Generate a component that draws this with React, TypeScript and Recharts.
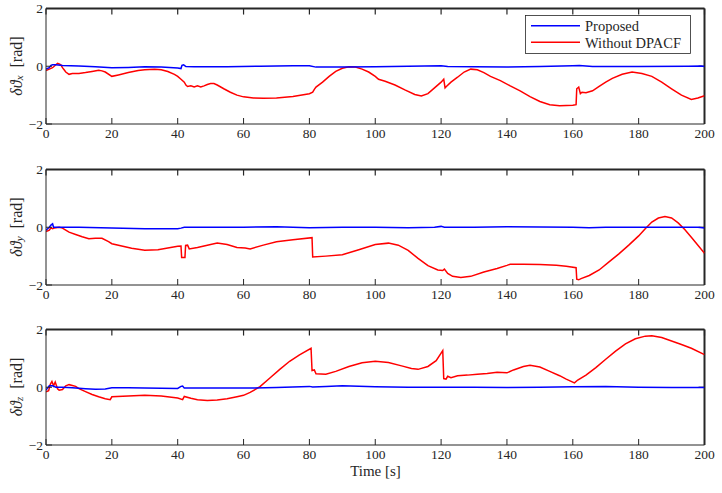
import React from 'react';
import { LineChart, Line, XAxis, YAxis, Legend, ReferenceLine } from 'recharts';

const timeTicks = [0, 20, 40, 60, 80, 100, 120, 140, 160, 180, 200];
const angleTicks = [-2, 0, 2];
const seriesNames = ['Proposed', 'Without DPACF'];
const axisSubscripts = ['x', 'y', 'z'];

const proposedX: [number, number][] = [
  [0, -0.1], [1, -0.05], [1.5, 0.03], [2, 0.05], [3, 0.05], [5, 0.03], [10, 0.01], [15, -0.02], [20, -0.05],
  [25, -0.04], [30, -0.02], [35, -0.03], [40, -0.06], [41, -0.08], [41.3, 0.03], [41.8, 0.05], [42.5, -0.01],
  [45, -0.02], [55, -0.02], [65, 0.0], [75, 0.02], [80, 0.02], [82, -0.03], [90, -0.03], [100, -0.02],
  [110, 0.0], [120, 0.02], [122, -0.01], [130, -0.02], [140, -0.03], [150, -0.01], [160, 0.02], [162, 0.03],
  [166, -0.01], [180, -0.01], [195, 0.0], [199, 0.01], [200, -0.01],
];

const withoutX: [number, number][] = [
  [0, -0.15], [1, -0.1], [2, -0.05], [3, 0.05], [3.5, 0.1], [4, 0.08], [4.5, 0.05], [5, -0.05], [5.5, -0.12],
  [6, -0.2], [7, -0.28], [8, -0.25], [10, -0.25], [12, -0.22], [14, -0.18], [16, -0.14], [17, -0.16], [18, -0.2],
  [20, -0.35], [22, -0.3], [25, -0.22], [28, -0.15], [30, -0.12], [33, -0.1], [35, -0.12], [37, -0.18],
  [39, -0.28], [40, -0.35], [41, -0.45], [42, -0.55], [42.5, -0.65], [43, -0.7], [44, -0.68], [45, -0.72],
  [46, -0.68], [47, -0.72], [48, -0.68], [49, -0.63], [50, -0.6], [51, -0.6], [52, -0.65], [54, -0.78],
  [56, -0.9], [58, -1.0], [60, -1.06], [63, -1.1], [66, -1.11], [70, -1.1], [75, -1.05], [80, -0.95],
  [81, -0.9], [81.5, -0.8], [82, -0.72], [84, -0.55], [86, -0.35], [88, -0.18], [90, -0.07], [92, -0.02],
  [94, -0.03], [96, -0.1], [98, -0.2], [100, -0.35], [101, -0.45], [103, -0.52], [106, -0.65], [109, -0.82],
  [112, -0.98], [114, -1.03], [116, -0.95], [118, -0.75], [120, -0.55], [120.8, -0.45], [121.2, -0.75],
  [121.6, -0.7], [123, -0.55], [125, -0.38], [127, -0.2], [129, -0.1], [131, -0.12], [133, -0.22], [135, -0.35],
  [138, -0.5], [141, -0.68], [144, -0.85], [147, -1.05], [150, -1.22], [153, -1.33], [156, -1.37], [160, -1.35],
  [161, -1.33], [161.2, -0.78], [161.8, -0.72], [162.3, -0.95], [162.8, -0.9], [164, -0.92], [166, -0.85],
  [168, -0.7], [170, -0.55], [172, -0.42], [175, -0.28], [178, -0.2], [181, -0.25], [184, -0.35], [187, -0.55],
  [190, -0.78], [193, -1.0], [196, -1.15], [198, -1.1], [200, -1.02],
];

const proposedY: [number, number][] = [
  [0, -0.1], [1, 0.0], [1.5, 0.08], [2, 0.12], [2.3, 0.0], [3, 0.0], [10, 0.0], [20, -0.03], [30, -0.05],
  [40, -0.05], [41, -0.03], [42, 0.0], [50, 0.0], [60, 0.0], [70, 0.02], [80, -0.02], [90, 0.0], [100, 0.0],
  [110, -0.02], [118, 0.0], [120, 0.03], [121, 0.0], [130, 0.0], [140, 0.02], [150, 0.01], [160, 0.0],
  [165, -0.02], [170, 0.0], [180, 0.0], [190, 0.0], [198, 0.0], [200, -0.03],
];

const withoutY: [number, number][] = [
  [0, -0.15], [1, -0.1], [1.5, -0.02], [2, -0.05], [2.5, -0.03], [3, -0.02], [4, 0.0], [5, -0.03], [6, -0.1],
  [7, -0.17], [9, -0.25], [11, -0.33], [13, -0.4], [15, -0.38], [17, -0.38], [19, -0.5], [20, -0.57],
  [23, -0.65], [26, -0.73], [30, -0.8], [34, -0.78], [37, -0.72], [40, -0.66], [41, -0.65], [41.2, -1.05],
  [42.2, -1.05], [42.4, -0.63], [43, -0.62], [43.5, -0.75], [46, -0.7], [49, -0.62], [52, -0.55], [55, -0.6],
  [58, -0.7], [60.5, -0.72], [62, -0.75], [66, -0.62], [70, -0.5], [75, -0.43], [80.8, -0.36], [81, -1.03],
  [85, -1.0], [90, -0.95], [95, -0.78], [100, -0.6], [104, -0.55], [107, -0.62], [110, -0.8], [113, -1.08],
  [116, -1.33], [119, -1.48], [120.5, -1.5], [121, -1.45], [122, -1.6], [123.5, -1.7], [126, -1.74],
  [129, -1.7], [133, -1.55], [137, -1.43], [140, -1.32], [141, -1.28], [145, -1.28], [150, -1.29],
  [155, -1.32], [158, -1.35], [161, -1.4], [161.2, -1.8], [161.8, -1.82], [162.5, -1.78], [165, -1.67],
  [168, -1.48], [171, -1.2], [174, -0.92], [177, -0.62], [180, -0.3], [182, -0.05], [184, 0.18], [186, 0.32],
  [188, 0.37], [190, 0.32], [192, 0.15], [194, -0.08], [196, -0.35], [198, -0.62], [200, -0.9],
];

const proposedZ: [number, number][] = [
  [0, -0.1], [1, 0.05], [2, 0.05], [3, 0.0], [5, 0.0], [8, -0.02], [12, -0.05], [15, -0.07], [18, -0.06],
  [20, -0.02], [25, -0.02], [30, -0.03], [40, -0.04], [41, 0.03], [41.5, 0.04], [42, -0.03], [50, -0.03],
  [60, -0.03], [70, -0.01], [80, 0.03], [81, 0.01], [85, 0.03], [90, 0.05], [100, 0.02], [110, 0.0],
  [120, 0.0], [130, 0.0], [140, -0.01], [150, 0.0], [160, 0.02], [170, 0.03], [180, 0.0], [190, -0.01],
  [200, -0.01],
];

const withoutZ: [number, number][] = [
  [0, -0.16], [0.8, -0.12], [1.3, 0.1], [1.8, 0.2], [2.3, 0.05], [2.8, 0.18], [3.5, -0.05], [4, -0.1],
  [5, -0.08], [6, 0.05], [7, 0.09], [8, 0.06], [9, 0.03], [10, -0.05], [12, -0.15], [14, -0.25], [16, -0.33],
  [18, -0.4], [19.5, -0.43], [20, -0.33], [25, -0.3], [30, -0.28], [35, -0.3], [40, -0.37], [41.5, -0.43],
  [42, -0.32], [44, -0.38], [46, -0.43], [49, -0.46], [52, -0.44], [55, -0.4], [58, -0.33], [60, -0.28],
  [62, -0.18], [65, 0.02], [68, 0.32], [71, 0.62], [74, 0.9], [77, 1.12], [80.5, 1.35], [80.8, 0.58],
  [81.5, 0.6], [82, 0.47], [85, 0.45], [88, 0.55], [92, 0.72], [96, 0.85], [100, 0.9], [104, 0.86],
  [108, 0.74], [111, 0.65], [113, 0.62], [116, 0.72], [118.5, 0.92], [120.5, 1.27], [120.8, 0.3],
  [121.5, 0.28], [122, 0.38], [123, 0.33], [125, 0.4], [128, 0.42], [131, 0.45], [134, 0.48], [137, 0.52],
  [140, 0.5], [142, 0.6], [145, 0.72], [147, 0.76], [150, 0.7], [153, 0.55], [156, 0.4], [158, 0.28],
  [160.5, 0.15], [161.5, 0.25], [164, 0.42], [167, 0.68], [170, 0.97], [173, 1.25], [176, 1.5], [179, 1.68],
  [182, 1.77], [184, 1.78], [187, 1.72], [190, 1.6], [193, 1.48], [196, 1.35], [200, 1.13],
];

const FONT = '"Liberation Serif", "DejaVu Serif", serif';
const INK = '#262626';
const BLUE = '#0000ff';
const RED = '#ff0000';

const X_MIN = 0;
const X_MAX = 200;
const Y_MIN = -2;
const Y_MAX = 2;
// inward tick length expressed in data units (~6px)
const TICK_DY = 0.21;
const TICK_DX = 1.8;

const toRows = (pts: [number, number][]) => pts.map(([t, v]) => ({ t, v }));

const YLabel = ({ sub }: { sub: string }) => (
  <text
    transform="rotate(-90, 16, 66)"
    x={16}
    y={66}
    textAnchor="middle"
    dominantBaseline="central"
    fontFamily={FONT}
    fontSize={16}
    fill={INK}
  >
    <tspan fontStyle="italic">δϑ</tspan>
    <tspan fontStyle="italic" fontSize={11} dy={3}>{sub}</tspan>
    <tspan dy={-3}>{'\u2002[rad]'}</tspan>
  </text>
);

const XLabel = () => (
  <text x={375.5} y={149.5} textAnchor="middle" dominantBaseline="central" fontFamily={FONT} fontSize={15} fill={INK}>
    Time [s]
  </text>
);

const LegendBox = () => (
  <svg width={167} height={40} style={{ display: 'block' }}>
    <rect x={0.5} y={0.5} width={165} height={38} fill="#ffffff" stroke={INK} strokeWidth={0.8} />
    <line x1={6} x2={55} y1={10.7} y2={10.7} stroke={BLUE} strokeWidth={1.5} />
    <text x={60} y={11} dominantBaseline="central" fontFamily={FONT} fontSize={14.5} fill={INK}>{seriesNames[0]}</text>
    <line x1={6} x2={55} y1={27.3} y2={27.3} stroke={RED} strokeWidth={1.5} />
    <text x={60} y={27.6} dominantBaseline="central" fontFamily={FONT} fontSize={14.5} fill={INK}>{seriesNames[1]}</text>
  </svg>
);

const tickStyle = { fontFamily: FONT, fontSize: 13.5, fill: INK };

type PanelProps = {
  top: number;
  proposed: [number, number][];
  without: [number, number][];
  sub: string;
  legend?: boolean;
  xLabel?: boolean;
};

const Panel = ({ top, proposed, without, sub, legend, xLabel }: PanelProps) => (
  <div style={{ position: 'absolute', left: 0, top, width: 722, height: 160 }}>
    <LineChart width={722} height={160} margin={{ top: 8.5, right: 17.5, left: 6, bottom: 6 }}>
      <XAxis
        dataKey="t"
        type="number"
        domain={[X_MIN, X_MAX]}
        ticks={timeTicks}
        allowDataOverflow
        height={30}
        stroke={INK}
        tickSize={-6}
        tickMargin={10}
        tick={tickStyle}
        interval={0}
        label={xLabel ? <XLabel /> : undefined}
      />
      <YAxis
        type="number"
        domain={[Y_MIN, Y_MAX]}
        ticks={angleTicks}
        allowDataOverflow
        width={40}
        stroke={INK}
        tickSize={-6}
        tickMargin={9}
        tick={tickStyle}
        interval={0}
        tickFormatter={(v: number) => (v < 0 ? `\u2212${Math.abs(v)}` : `${v}`)}
        label={<YLabel sub={sub} />}
      />
      <ReferenceLine y={Y_MAX} stroke={INK} strokeWidth={2} ifOverflow="extendDomain" />
      <ReferenceLine x={X_MAX} stroke={INK} strokeWidth={2} ifOverflow="extendDomain" />
      {timeTicks.map((t) => (
        <ReferenceLine
          key={`tt${t}`}
          segment={[{ x: t, y: Y_MAX }, { x: t, y: Y_MAX - TICK_DY }]}
          stroke={INK}
          strokeWidth={1.2}
          ifOverflow="extendDomain"
        />
      ))}
      <ReferenceLine
        segment={[{ x: X_MAX, y: 0 }, { x: X_MAX - TICK_DX, y: 0 }]}
        stroke={INK}
        strokeWidth={1.2}
        ifOverflow="extendDomain"
      />
      <Line
        data={toRows(without)}
        dataKey="v"
        name={seriesNames[1]}
        stroke={RED}
        strokeWidth={1.5}
        dot={false}
        isAnimationActive={false}
        type="linear"
      />
      <Line
        data={toRows(proposed)}
        dataKey="v"
        name={seriesNames[0]}
        stroke={BLUE}
        strokeWidth={1.5}
        dot={false}
        isAnimationActive={false}
        type="linear"
      />
      {legend ? (
        <Legend
          layout="horizontal"
          verticalAlign="middle"
          align="center"
          content={() => <LegendBox />}
          wrapperStyle={{ position: 'absolute', left: 525, top: 15, width: 167, height: 40 }}
        />
      ) : null}
    </LineChart>
  </div>
);

export default function App() {
  return (
    <div style={{ position: 'absolute', left: 0, top: 0, width: 722, height: 493, background: '#ffffff' }}>
      <Panel top={0} proposed={proposedX} without={withoutX} sub={axisSubscripts[0]} legend />
      <Panel top={160.5} proposed={proposedY} without={withoutY} sub={axisSubscripts[1]} />
      <Panel top={321} proposed={proposedZ} without={withoutZ} sub={axisSubscripts[2]} xLabel />
    </div>
  );
}
